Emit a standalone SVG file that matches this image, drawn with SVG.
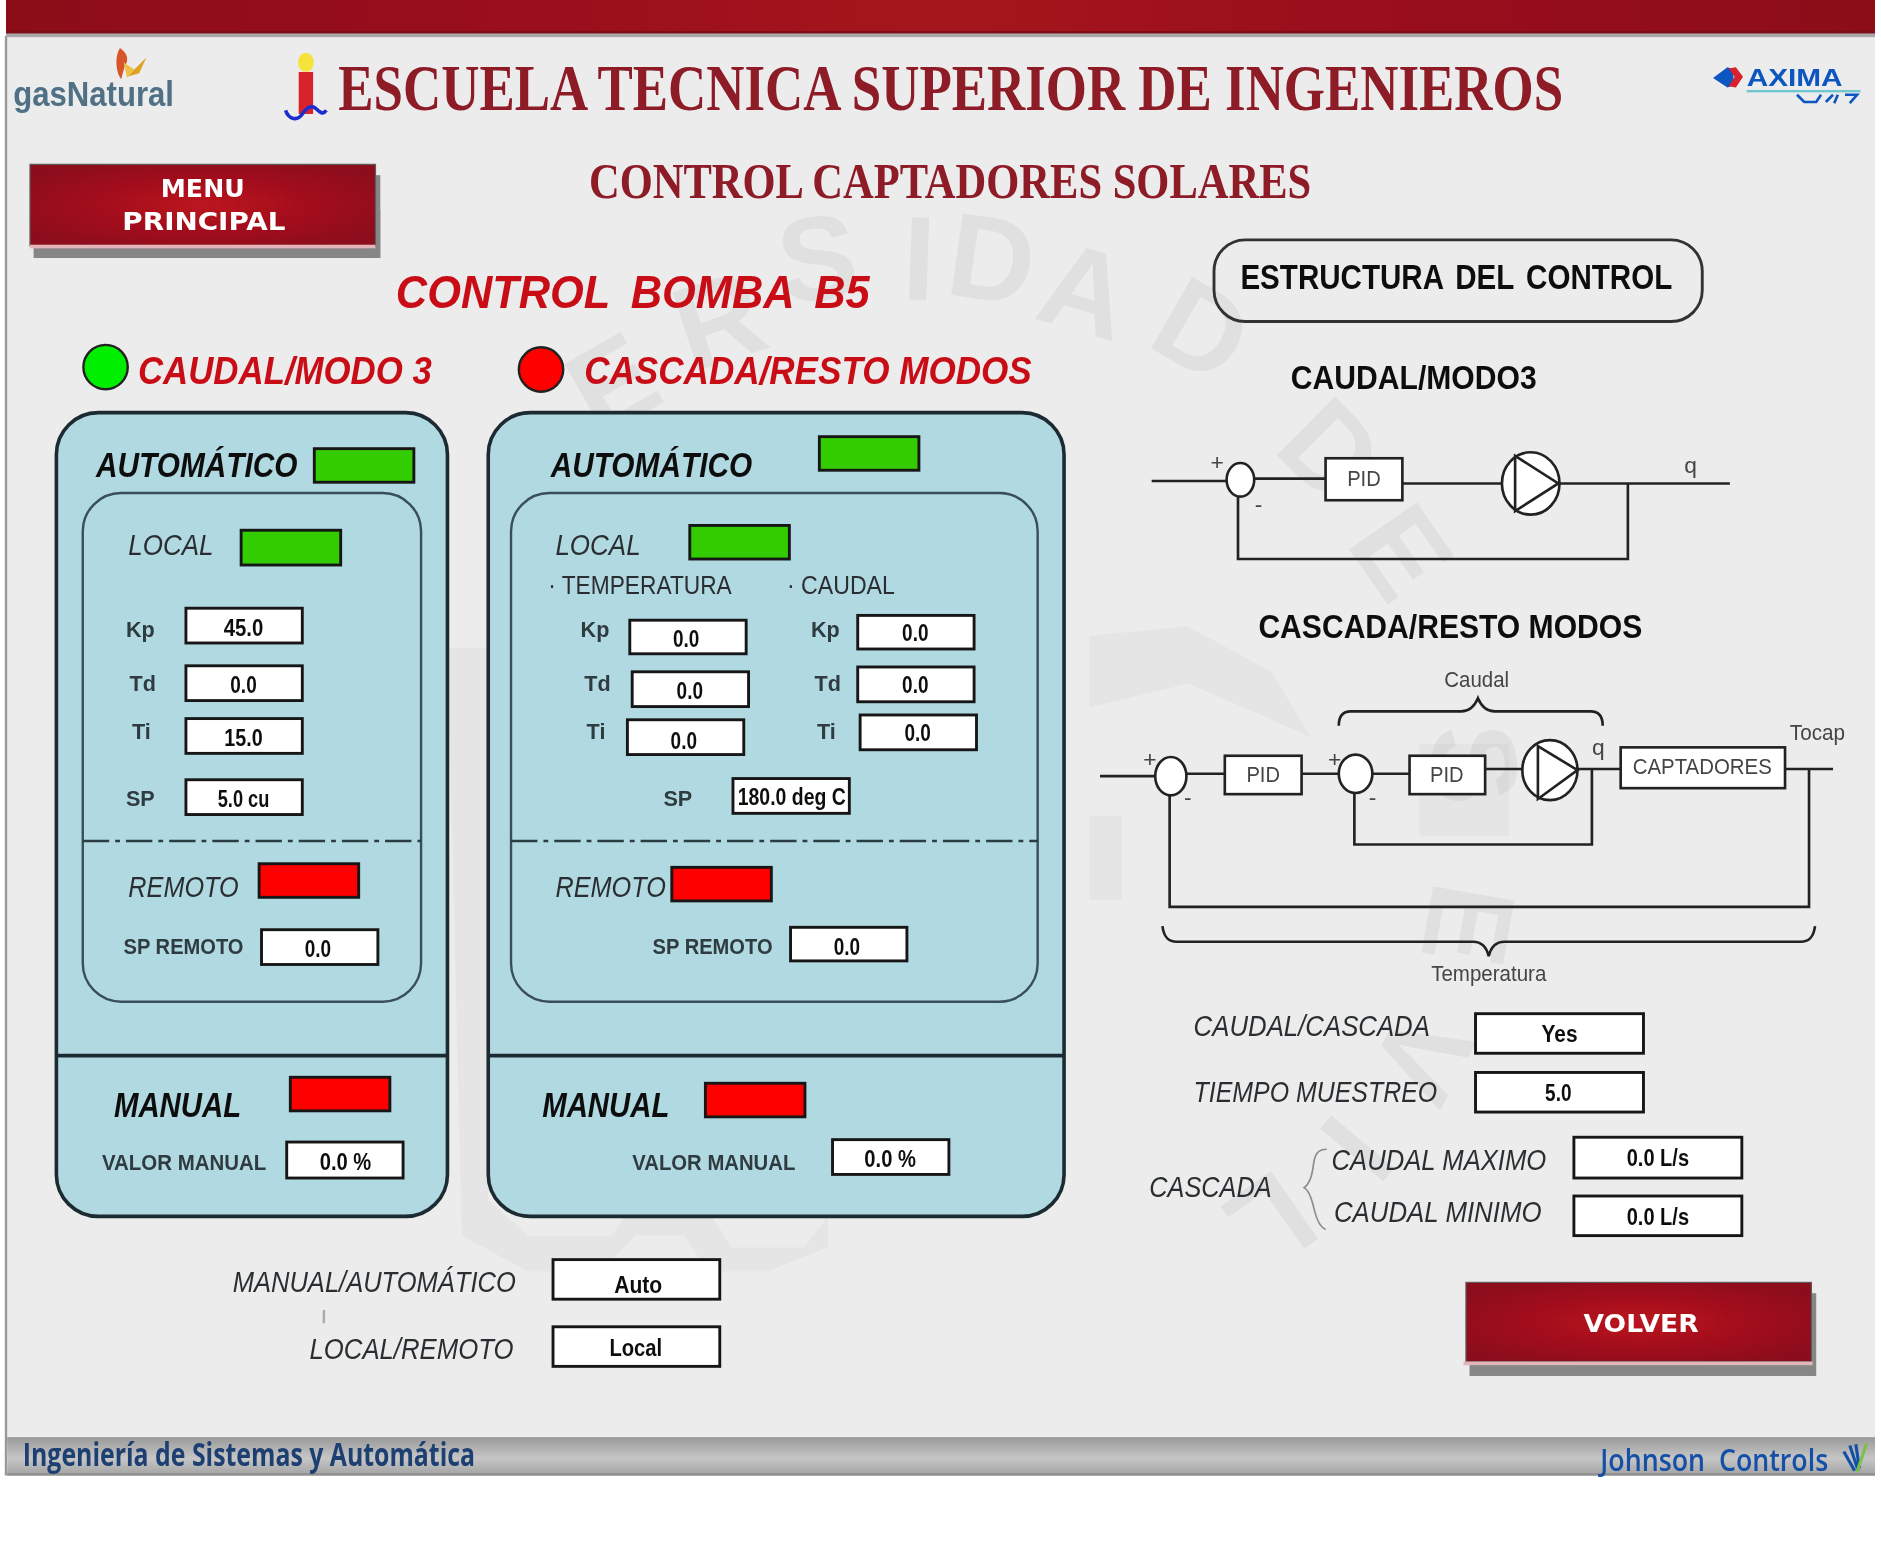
<svg xmlns="http://www.w3.org/2000/svg" width="1881" height="1550" viewBox="0 0 1881 1550">
<style>
text{font-family:"Liberation Sans",Arial,sans-serif}
.serif{font-family:"Liberation Serif","Times New Roman",serif;font-weight:bold;fill:#8e1a28}
.btn{font-family:"DejaVu Sans",sans-serif;font-weight:bold;fill:#fff;font-size:21px}
.red{font-weight:bold;font-style:italic;fill:#c90f18}
.hd{font-weight:bold;font-style:italic;font-size:30px;fill:#111}
.it{font-style:italic;font-size:24px;fill:#2a2f30}
.lb{font-weight:bold;font-size:18px;fill:#2f3b3f}
.val{font-weight:bold;font-size:20px;fill:#111;text-anchor:middle}
.ttl{font-weight:bold;fill:#111}
.dg{font-size:19px;fill:#444}
.box{fill:#fff;stroke:#151515;stroke-width:2.4}
.on{fill:#33cc00;stroke:#161616;stroke-width:2.4}
.off{fill:#ff0000;stroke:#161616;stroke-width:2.4}
.panel{fill:#b1d9e2;stroke:#1d2b30;stroke-width:3}
.inner{fill:none;stroke:#38505a;stroke-width:2}
.wire{fill:none;stroke:#222;stroke-width:2.2}
.blk{fill:#fff;stroke:#222;stroke-width:2.2}
.wm{fill:#000;opacity:.045;font-size:100px;font-weight:bold;text-anchor:middle}
.crest{fill:#000;opacity:.028}
</style>
<defs>
<linearGradient id="topbar" x1="0" y1="0" x2="1" y2="0"><stop offset="0" stop-color="#8c1019"/><stop offset=".5" stop-color="#a5121f"/><stop offset="1" stop-color="#8c1019"/></linearGradient>
<linearGradient id="botbar" x1="0" y1="0" x2="0" y2="1"><stop offset="0" stop-color="#999"/><stop offset=".55" stop-color="#c6c6c6"/><stop offset="1" stop-color="#a2a2a2"/></linearGradient>
<radialGradient id="btnfill" cx=".5" cy=".5" r=".6"><stop offset="0" stop-color="#bb1220"/><stop offset="1" stop-color="#8c101a"/></radialGradient>
<filter id="soft" filterUnits="userSpaceOnUse" x="0" y="0" width="1881" height="1550"><feGaussianBlur stdDeviation="0.55"/></filter>
</defs>
<rect width="1881" height="1550" fill="#fff"/>
<g transform="scale(1.19962)" filter="url(#soft)">
<g id="background">
<rect x="5" y="28" width="1558" height="1172" fill="#ececec"/>
<rect x="4" y="30" width="2" height="1200" fill="#999"/>
<rect x="5" y="0" width="1558" height="28" fill="url(#topbar)"/>
<rect x="5" y="26" width="1558" height="2" fill="#7a0c14"/>
<rect x="5" y="28" width="1558" height="3" fill="#a9a9a9"/>
<rect x="6" y="1198" width="1557" height="32" fill="url(#botbar)"/>
<rect x="6" y="1228" width="1557" height="2" fill="#909090"/>
<text x="19" y="1222" font-size="27" font-weight="bold" fill="#1f3f72" style="font-family:'Open Sans',sans-serif" textLength="377" lengthAdjust="spacingAndGlyphs">Ingeniería de Sistemas y Automática</text>
<text x="1334" y="1226" font-size="25" font-weight="600" fill="#1250a8" style="font-family:'Open Sans',sans-serif" textLength="190" lengthAdjust="spacingAndGlyphs" xml:space="preserve">Johnson  Controls</text>
<path d="M1537 1210l9 16M1542 1205l7 21M1547 1204l3 20" fill="none" stroke="#1250a8" stroke-width="2.6"/>
<path d="M1556 1203l-8 24" fill="none" stroke="#7cc04a" stroke-width="2.6"/>
</g>
<g id="watermark-back">
<path class="crest" d="M373 540H407V1000L440 1030H510L530 1000H585L610 1040H670L690 1014V1040L640 1060H590L570 1030H530L500 1060H440L385 1030Z"/>
<path class="crest" d="M908 530L990 522 1060 560 1093 615 1060 600 990 570 908 590ZM908 680H935V750H908ZM1183 620H1258V697H1183Z"/>
<text class="wm" transform="translate(475 430) rotate(-40)">V</text>
<text class="wm" transform="translate(528 350) rotate(-30)">E</text>
<text class="wm" transform="translate(610 300) rotate(-18)">R</text>
<text class="wm" transform="translate(685 250) rotate(-6)">S</text>
<text class="wm" transform="translate(765 250) rotate(2)">I</text>
<text class="wm" transform="translate(822 250) rotate(8)">D</text>
<text class="wm" transform="translate(895 275) rotate(16)">A</text>
<text class="wm" transform="translate(985 305) rotate(30)">D</text>
<text class="wm" transform="translate(1085 400) rotate(45)">D</text>
<text class="wm" transform="translate(1140 480) rotate(55)">E</text>
<text class="wm" transform="translate(1195 640) rotate(85)">S</text>
<text class="wm" transform="translate(1190 765) rotate(100)">E</text>
<text class="wm" transform="translate(1155 865) rotate(118)">V</text>
<text class="wm" transform="translate(1105 935) rotate(130)">I</text>
<text class="wm" transform="translate(1040 990) rotate(145)">L</text>
</g>
<g id="logo-gasnatural">
<text x="11" y="88" font-size="29" font-weight="bold" fill="#4f7085" textLength="134" lengthAdjust="spacingAndGlyphs">gasNatural</text>
<path d="M100 40c6 4 8 10 4 15l-3 11c-4-5-6-18-1-26z" fill="#d8552a"/>
<path d="M106 64l16-16-6 13z" fill="#e0a020"/>
<path d="M103 52l9 6-6 7z" fill="#eec24a"/>
</g>
<g id="logo-escuela">
<rect x="249" y="60" width="12" height="35" fill="#d8242c"/>
<ellipse cx="255" cy="52" rx="6.5" ry="8" fill="#f5e23a"/>
<path d="M238 92c3 8 10 9 14 3s8-8 12-4 6 4 8 1" fill="none" stroke="#1f2fd0" stroke-width="3"/>
</g>
<g id="title">
<text class="serif" x="282" y="92" font-size="55" textLength="1021" lengthAdjust="spacingAndGlyphs">ESCUELA TECNICA SUPERIOR DE INGENIEROS</text>
<text class="serif" x="491" y="165" font-size="43" textLength="602" lengthAdjust="spacingAndGlyphs">CONTROL CAPTADORES SOLARES</text>
</g>
<g id="logo-axima">
<path d="M1428 65l12-9 5 2v13l-5 2-12-8z" fill="#0a55c0"/>
<path d="M1441 57l6-1 6 8-6 9-6-1 5-8z" fill="#d6222e"/>
<text x="1456" y="72" font-size="20" font-weight="bold" fill="#0a55c0" textLength="80" lengthAdjust="spacingAndGlyphs">AXIMA</text>
<rect x="1456" y="75" width="95" height="2" fill="#6fc7d0"/>
<path d="M1498 79l6 6h10l4-6M1522 85l6-6M1532 79l-3 7M1538 79h10l-6 7" fill="none" stroke="#0a55c0" stroke-width="2.2"/>
</g>
<g id="btn-menu">
<path d="M28 175H317V215H28Z" fill="#868686"/>
<rect x="313" y="146" width="4" height="69" fill="#868686"/>
<rect x="25" y="137" width="288" height="68" fill="url(#btnfill)" stroke="#5c5c5c" stroke-width="1"/>
<rect x="25" y="204" width="288" height="3" fill="#e3b5ba"/>
<text class="btn" x="134" y="164" textLength="70" lengthAdjust="spacing">MENU</text>
<text class="btn" x="102" y="192" textLength="136" lengthAdjust="spacingAndGlyphs">PRINCIPAL</text>
</g>
<text class="red" x="330" y="257" font-size="38" word-spacing="8" textLength="395" lengthAdjust="spacingAndGlyphs">CONTROL BOMBA B5</text>
<g id="mode-caudal">
<circle cx="88" cy="306" r="18.5" fill="#00ee00" stroke="#222" stroke-width="2"/>
<text class="red" x="115" y="320" font-size="32" textLength="245" lengthAdjust="spacingAndGlyphs">CAUDAL/MODO 3</text>
</g>
<g id="mode-cascada">
<circle cx="451" cy="308" r="18.5" fill="#ff0000" stroke="#222" stroke-width="2"/>
<text class="red" x="487" y="320" font-size="32" textLength="373" lengthAdjust="spacingAndGlyphs">CASCADA/RESTO MODOS</text>
</g>
<g id="panel-left">
<rect class="panel" x="47" y="344" width="326" height="670" rx="35"/>
<path d="M47 880H373" fill="none" stroke="#1d2b30" stroke-width="3"/>
<text class="hd" x="80" y="398" textLength="168" lengthAdjust="spacingAndGlyphs">AUTOMÁTICO</text>
<rect class="on" x="262" y="374" width="83" height="28"/>
<rect class="inner" x="69" y="411" width="282" height="424" rx="32"/>
<path d="M69 701H351" fill="none" stroke="#2c3c42" stroke-width="2" stroke-dasharray="22 5 4 5"/>
<text class="it" x="107" y="463" textLength="71" lengthAdjust="spacingAndGlyphs">LOCAL</text>
<rect class="on" x="201" y="442" width="83" height="29"/>
<text class="lb" x="105" y="531">Kp</text>
<rect class="box" x="155" y="507" width="97" height="29"/>
<text class="val" x="203" y="530" textLength="33" lengthAdjust="spacingAndGlyphs">45.0</text>
<text class="lb" x="108" y="576">Td</text>
<rect class="box" x="155" y="555" width="97" height="29"/>
<text class="val" x="203" y="578" textLength="22" lengthAdjust="spacingAndGlyphs">0.0</text>
<text class="lb" x="110" y="616">Ti</text>
<rect class="box" x="155" y="599" width="97" height="29"/>
<text class="val" x="203" y="622" textLength="32" lengthAdjust="spacingAndGlyphs">15.0</text>
<text class="lb" x="105" y="672">SP</text>
<rect class="box" x="155" y="650" width="97" height="29"/>
<text class="val" x="203" y="673" textLength="43" lengthAdjust="spacingAndGlyphs">5.0 cu</text>
<text class="it" x="107" y="748" textLength="92" lengthAdjust="spacingAndGlyphs">REMOTO</text>
<rect class="off" x="216" y="720" width="83" height="28"/>
<text class="lb" x="103" y="795" textLength="100" lengthAdjust="spacingAndGlyphs">SP REMOTO</text>
<rect class="box" x="218" y="775" width="97" height="29"/>
<text class="val" x="265" y="798" textLength="22" lengthAdjust="spacingAndGlyphs">0.0</text>
<text class="hd" x="95" y="931" textLength="106" lengthAdjust="spacingAndGlyphs">MANUAL</text>
<rect class="off" x="242" y="898" width="83" height="28"/>
<text class="lb" x="85" y="975" textLength="137" lengthAdjust="spacingAndGlyphs">VALOR MANUAL</text>
<rect class="box" x="239" y="952" width="97" height="30"/>
<text class="val" x="288" y="975" textLength="43" lengthAdjust="spacingAndGlyphs">0.0 %</text>
</g>
<g id="panel-right">
<rect class="panel" x="407" y="344" width="480" height="670" rx="35"/>
<path d="M407 880H887" fill="none" stroke="#1d2b30" stroke-width="3"/>
<text class="hd" x="459" y="398" textLength="168" lengthAdjust="spacingAndGlyphs">AUTOMÁTICO</text>
<rect class="on" x="683" y="364" width="83" height="28"/>
<rect class="inner" x="426" y="411" width="439" height="424" rx="32"/>
<path d="M426 701H865" fill="none" stroke="#2c3c42" stroke-width="2" stroke-dasharray="22 5 4 5"/>
<text class="it" x="463" y="463" textLength="71" lengthAdjust="spacingAndGlyphs">LOCAL</text>
<rect class="on" x="575" y="438" width="83" height="28"/>
<text x="457" y="495" font-size="22" fill="#2a2f30" textLength="153" lengthAdjust="spacingAndGlyphs">· TEMPERATURA</text>
<text x="656" y="495" font-size="22" fill="#2a2f30" textLength="90" lengthAdjust="spacingAndGlyphs">· CAUDAL</text>
<text class="lb" x="484" y="531">Kp</text>
<rect class="box" x="525" y="517" width="97" height="28"/>
<text class="val" x="572" y="539" textLength="22" lengthAdjust="spacingAndGlyphs">0.0</text>
<text class="lb" x="487" y="576">Td</text>
<rect class="box" x="527" y="560" width="97" height="29"/>
<text class="val" x="575" y="583" textLength="22" lengthAdjust="spacingAndGlyphs">0.0</text>
<text class="lb" x="489" y="616">Ti</text>
<rect class="box" x="523" y="600" width="97" height="29"/>
<text class="val" x="570" y="624" textLength="22" lengthAdjust="spacingAndGlyphs">0.0</text>
<text class="lb" x="676" y="531">Kp</text>
<rect class="box" x="715" y="513" width="97" height="28"/>
<text class="val" x="763" y="534" textLength="22" lengthAdjust="spacingAndGlyphs">0.0</text>
<text class="lb" x="679" y="576">Td</text>
<rect class="box" x="715" y="556" width="97" height="29"/>
<text class="val" x="763" y="578" textLength="22" lengthAdjust="spacingAndGlyphs">0.0</text>
<text class="lb" x="681" y="616">Ti</text>
<rect class="box" x="717" y="596" width="97" height="29"/>
<text class="val" x="765" y="618" textLength="22" lengthAdjust="spacingAndGlyphs">0.0</text>
<text class="lb" x="553" y="672">SP</text>
<rect class="box" x="611" y="649" width="97" height="29"/>
<text class="val" x="660" y="671" textLength="90" lengthAdjust="spacingAndGlyphs">180.0 deg C</text>
<text class="it" x="463" y="748" textLength="92" lengthAdjust="spacingAndGlyphs">REMOTO</text>
<rect class="off" x="560" y="723" width="83" height="28"/>
<text class="lb" x="544" y="795" textLength="100" lengthAdjust="spacingAndGlyphs">SP REMOTO</text>
<rect class="box" x="659" y="773" width="97" height="28"/>
<text class="val" x="706" y="796" textLength="22" lengthAdjust="spacingAndGlyphs">0.0</text>
<text class="hd" x="452" y="931" textLength="106" lengthAdjust="spacingAndGlyphs">MANUAL</text>
<rect class="off" x="588" y="903" width="83" height="28"/>
<text class="lb" x="527" y="975" textLength="136" lengthAdjust="spacingAndGlyphs">VALOR MANUAL</text>
<rect class="box" x="694" y="950" width="97" height="29"/>
<text class="val" x="742" y="973" textLength="43" lengthAdjust="spacingAndGlyphs">0.0 %</text>
</g>
<g id="selectors">
<text class="it" x="194" y="1077" textLength="236" lengthAdjust="spacingAndGlyphs">MANUAL/AUTOMÁTICO</text>
<rect class="box" x="461" y="1050" width="139" height="33"/>
<text class="val" x="532" y="1078" textLength="40" lengthAdjust="spacingAndGlyphs">Auto</text>
<rect x="269" y="1092" width="2" height="11" fill="#aaa"/>
<text class="it" x="258" y="1133" textLength="170" lengthAdjust="spacingAndGlyphs">LOCAL/REMOTO</text>
<rect class="box" x="461" y="1106" width="139" height="33"/>
<text class="val" x="530" y="1130" textLength="44" lengthAdjust="spacingAndGlyphs">Local</text>
</g>
<g id="estructura">
<rect x="1012" y="200" width="407" height="68" rx="26" fill="none" stroke="#333" stroke-width="2.4"/>
<text class="ttl" x="1034" y="241" font-size="29" word-spacing="4" textLength="360" lengthAdjust="spacingAndGlyphs">ESTRUCTURA DEL CONTROL</text>
<text class="ttl" x="1076" y="324" font-size="27" textLength="205" lengthAdjust="spacingAndGlyphs">CAUDAL/MODO3</text>
<text class="ttl" x="1049" y="532" font-size="27" textLength="320" lengthAdjust="spacingAndGlyphs">CASCADA/RESTO MODOS</text>
</g>
<g id="connectors">
<path class="wire" d="M960 401H1024M1046 399H1105M1169 403H1252M1300 403H1442M1357 403V466H1032V414"/>
<path class="wire" d="M917 647H965M989 645H1021M1085 645H1118M1144 645H1175M1238 641H1270M1315 641H1351M1488 641H1528M1327 641V704H1129V661M1508 641V756H975V663"/>
<path class="wire" d="M1116 605c0-8 3-12 10-12H1218c7 0 11-4 14-11 3 7 7 11 14 11H1326c7 0 10 4 10 12"/>
<path class="wire" d="M969 772c1 8 4 13 12 13H1228c7 0 11 4 13 12 2-8 6-12 13-12H1501c8 0 11-5 12-13"/>
<path d="M1106 958c-8 0-10 5-11 12-1 9-3 17-8 20 5 3 7 12 9 20 2 8 5 13 9 15" fill="none" stroke="#8c8c8c" stroke-width="1.4"/>
</g>
<g id="loop-caudal">
<ellipse class="blk" cx="1034" cy="400" rx="11.5" ry="14"/>
<rect class="blk" x="1105" y="382" width="64" height="35"/>
<text class="dg" x="1137" y="405" text-anchor="middle" textLength="28" lengthAdjust="spacingAndGlyphs">PID</text>
<ellipse class="blk" cx="1276" cy="403" rx="24" ry="26"/>
<path class="wire" d="M1263 380L1299 403 1263 426Z"/>
<text class="dg" x="1009" y="392" font-size="15">+</text>
<text class="dg" x="1046" y="427" font-size="13">-</text>
<text class="dg" x="1404" y="394">q</text>
</g>
<g id="loop-cascada">
<ellipse class="blk" cx="976" cy="647" rx="13" ry="16"/>
<rect class="blk" x="1021" y="630" width="64" height="32"/>
<text class="dg" x="1053" y="652" text-anchor="middle" textLength="28" lengthAdjust="spacingAndGlyphs">PID</text>
<ellipse class="blk" cx="1130" cy="645" rx="14" ry="16"/>
<rect class="blk" x="1175" y="630" width="63" height="32"/>
<text class="dg" x="1206" y="652" text-anchor="middle" textLength="28" lengthAdjust="spacingAndGlyphs">PID</text>
<ellipse class="blk" cx="1292" cy="642" rx="23" ry="25"/>
<path class="wire" d="M1282 622L1315 642 1282 666Z"/>
<rect class="blk" x="1351" y="623" width="137" height="34"/>
<text class="dg" x="1361" y="645" textLength="116" lengthAdjust="spacingAndGlyphs">CAPTADORES</text>
<text class="dg" x="1204" y="573" textLength="54" lengthAdjust="spacingAndGlyphs">Caudal</text>
<text class="dg" x="1327" y="629">q</text>
<text class="dg" x="1492" y="617" textLength="46" lengthAdjust="spacingAndGlyphs">Tocap</text>
<text class="dg" x="1193" y="818" textLength="96" lengthAdjust="spacingAndGlyphs">Temperatura</text>
<text class="dg" x="953" y="639" font-size="15">+</text>
<text class="dg" x="1107" y="639" font-size="15">+</text>
<text class="dg" x="987" y="671" font-size="13">-</text>
<text class="dg" x="1141" y="671" font-size="13">-</text>
</g>
<g id="parametros">
<text class="it" x="995" y="864" textLength="197" lengthAdjust="spacingAndGlyphs">CAUDAL/CASCADA</text>
<rect class="box" x="1230" y="845" width="140" height="33"/>
<text class="val" x="1300" y="869" textLength="30" lengthAdjust="spacingAndGlyphs">Yes</text>
<text class="it" x="995" y="919" textLength="203" lengthAdjust="spacingAndGlyphs">TIEMPO MUESTREO</text>
<rect class="box" x="1230" y="894" width="140" height="33"/>
<text class="val" x="1299" y="918" textLength="22" lengthAdjust="spacingAndGlyphs">5.0</text>
<text class="it" x="958" y="998" textLength="102" lengthAdjust="spacingAndGlyphs">CASCADA</text>
<text class="it" x="1110" y="975" textLength="179" lengthAdjust="spacingAndGlyphs">CAUDAL MAXIMO</text>
<rect class="box" x="1312" y="948" width="140" height="34"/>
<text class="val" x="1382" y="972" textLength="52" lengthAdjust="spacingAndGlyphs">0.0 L/s</text>
<text class="it" x="1112" y="1019" textLength="173" lengthAdjust="spacingAndGlyphs">CAUDAL MINIMO</text>
<rect class="box" x="1312" y="997" width="140" height="33"/>
<text class="val" x="1382" y="1021" textLength="52" lengthAdjust="spacingAndGlyphs">0.0 L/s</text>
</g>
<g id="btn-volver">
<rect x="1225" y="1100" width="288" height="47" fill="#868686"/>
<rect x="1510" y="1078" width="4" height="69" fill="#868686"/>
<rect x="1222" y="1069" width="288" height="66" fill="url(#btnfill)" stroke="#5c5c5c" stroke-width="1"/>
<rect x="1220" y="1135" width="291" height="3" fill="#e3b5ba"/>
<text class="btn" x="1320" y="1110" textLength="96" lengthAdjust="spacingAndGlyphs">VOLVER</text>
</g>
</g>
</svg>
